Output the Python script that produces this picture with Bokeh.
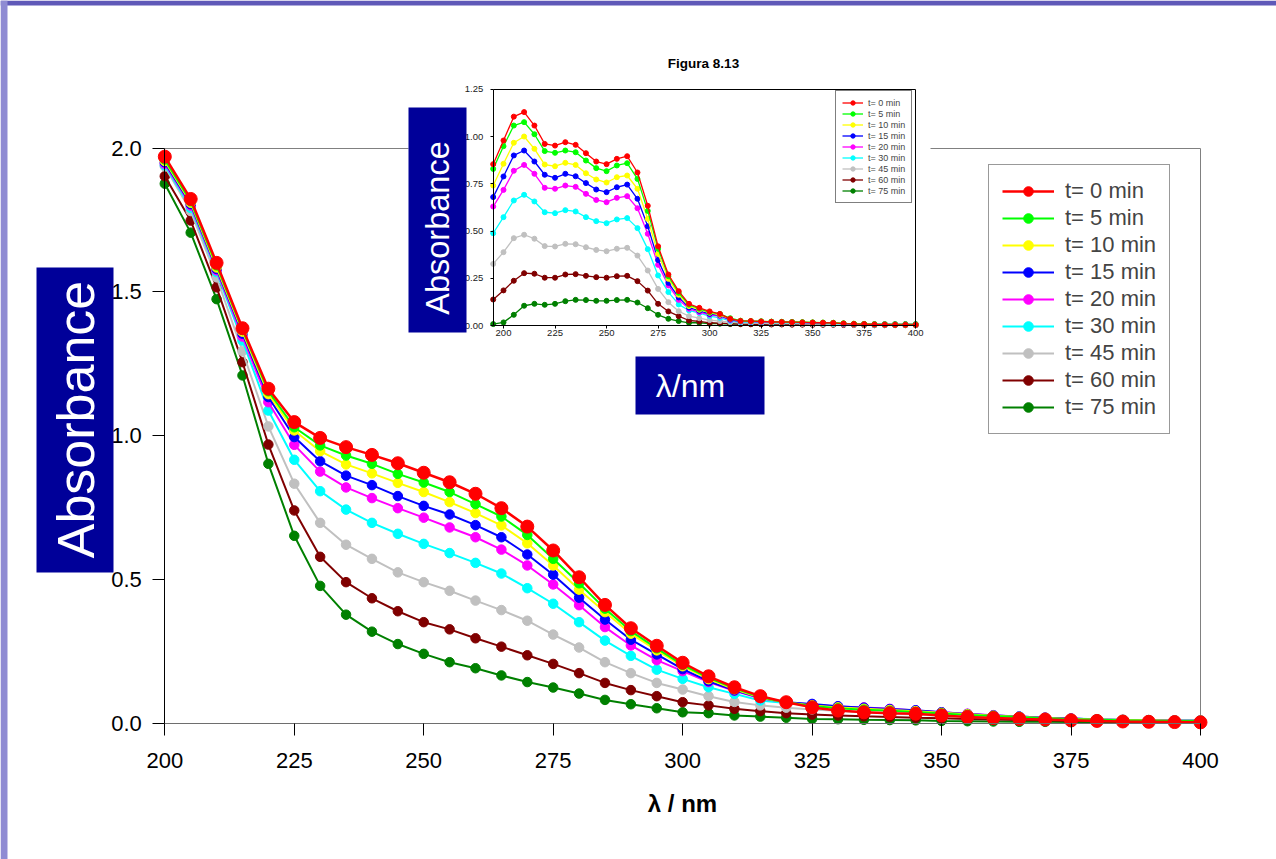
from bokeh.plotting import figure
from bokeh.models import (Range1d, LinearAxis, FixedTicker, PrintfTickFormatter,
                          Legend, LegendItem, BoxAnnotation, Label, ColumnDataSource)
from bokeh.embed import file_html
from bokeh.resources import INLINE

# ---------------- data ----------------
series_labels = ["t= 0 min", "t= 5 min", "t= 10 min", "t= 15 min", "t= 20 min",
                 "t= 30 min", "t= 45 min", "t= 60 min", "t= 75 min"]
series_colors = ["#ff0000", "#00ff00", "#ffff00", "#0000ff", "#ff00ff",
                 "#00ffff", "#c0c0c0", "#800000", "#008000"]

wl_main = list(range(200, 405, 5))
main_t0 = [1.970, 1.823, 1.601, 1.374, 1.164, 1.048, 0.993, 0.961, 0.934, 0.905,
           0.872, 0.839, 0.799, 0.749, 0.685, 0.602, 0.509, 0.413, 0.332, 0.271,
           0.212, 0.165, 0.127, 0.096, 0.075, 0.057, 0.046, 0.040, 0.037, 0.035,
           0.029, 0.024, 0.020, 0.017, 0.015, 0.012, 0.010, 0.008, 0.007, 0.006,
           0.005]
main_t5 = [1.960, 1.815, 1.592, 1.368, 1.155, 1.030, 0.967, 0.932, 0.903, 0.868,
           0.838, 0.805, 0.763, 0.720, 0.656, 0.573, 0.488, 0.400, 0.322, 0.262,
           0.205, 0.160, 0.123, 0.093, 0.074, 0.062, 0.054, 0.049, 0.045, 0.041,
           0.036, 0.031, 0.027, 0.023, 0.019, 0.016, 0.014, 0.012, 0.011, 0.010,
           0.010]
main_t10 = [1.955, 1.810, 1.585, 1.362, 1.145, 1.019, 0.947, 0.901, 0.870, 0.837,
            0.805, 0.770, 0.732, 0.689, 0.627, 0.550, 0.466, 0.388, 0.313, 0.255,
            0.200, 0.155, 0.120, 0.091, 0.074, 0.064, 0.057, 0.052, 0.048, 0.044,
            0.038, 0.033, 0.028, 0.024, 0.020, 0.017, 0.015, 0.013, 0.012, 0.011,
            0.011]
main_t15 = [1.950, 1.805, 1.580, 1.355, 1.135, 0.996, 0.912, 0.862, 0.829, 0.791,
            0.757, 0.727, 0.690, 0.648, 0.588, 0.518, 0.438, 0.362, 0.292, 0.241,
            0.190, 0.148, 0.116, 0.090, 0.075, 0.069, 0.061, 0.056, 0.051, 0.047,
            0.040, 0.034, 0.029, 0.025, 0.021, 0.018, 0.015, 0.013, 0.012, 0.011,
            0.011]
main_t20 = [1.945, 1.800, 1.575, 1.345, 1.117, 0.969, 0.876, 0.821, 0.784, 0.749,
            0.716, 0.682, 0.648, 0.605, 0.550, 0.484, 0.412, 0.336, 0.272, 0.221,
            0.183, 0.145, 0.115, 0.089, 0.075, 0.066, 0.060, 0.057, 0.052, 0.046,
            0.040, 0.035, 0.030, 0.025, 0.021, 0.018, 0.015, 0.013, 0.012, 0.011,
            0.011]
main_t30 = [1.940, 1.792, 1.569, 1.331, 1.088, 0.917, 0.808, 0.744, 0.698, 0.660,
            0.625, 0.593, 0.559, 0.522, 0.471, 0.417, 0.353, 0.289, 0.236, 0.188,
            0.156, 0.127, 0.104, 0.081, 0.072, 0.063, 0.055, 0.052, 0.048, 0.044,
            0.038, 0.033, 0.029, 0.025, 0.021, 0.018, 0.016, 0.014, 0.013, 0.012,
            0.012]
main_t45 = [1.936, 1.781, 1.551, 1.294, 1.033, 0.834, 0.698, 0.622, 0.573, 0.526,
            0.492, 0.462, 0.428, 0.395, 0.358, 0.310, 0.265, 0.214, 0.176, 0.142,
            0.119, 0.096, 0.076, 0.064, 0.056, 0.050, 0.045, 0.040, 0.036, 0.032,
            0.028, 0.025, 0.022, 0.019, 0.016, 0.014, 0.012, 0.011, 0.010, 0.009,
            0.009]
main_t60 = [1.902, 1.748, 1.516, 1.256, 0.970, 0.741, 0.580, 0.492, 0.436, 0.391,
            0.353, 0.328, 0.297, 0.268, 0.238, 0.208, 0.176, 0.142, 0.117, 0.096,
            0.075, 0.064, 0.052, 0.044, 0.037, 0.032, 0.029, 0.026, 0.024, 0.021,
            0.019, 0.017, 0.015, 0.013, 0.012, 0.010, 0.009, 0.008, 0.007, 0.007,
            0.006]
main_t75 = [1.876, 1.706, 1.475, 1.210, 0.903, 0.653, 0.479, 0.379, 0.320, 0.277,
            0.243, 0.214, 0.193, 0.168, 0.145, 0.126, 0.105, 0.083, 0.068, 0.054,
            0.040, 0.037, 0.029, 0.025, 0.021, 0.017, 0.016, 0.014, 0.013, 0.012,
            0.010, 0.009, 0.008, 0.007, 0.007, 0.006, 0.006, 0.005, 0.005, 0.005,
            0.005]

wl_inset = list(range(195, 405, 5))
ins_t0 = [0.854, 0.979, 1.105, 1.129, 1.058, 0.961, 0.952, 0.970, 0.956, 0.912,
          0.868, 0.854, 0.882, 0.896, 0.810, 0.634, 0.420, 0.271, 0.183, 0.116,
          0.095, 0.076, 0.063, 0.037, 0.026, 0.025, 0.023, 0.021, 0.020, 0.019,
          0.018, 0.017, 0.016, 0.015, 0.012, 0.010, 0.009, 0.007, 0.006, 0.005,
          0.005, 0.005]
ins_t5 = [0.829, 0.949, 1.058, 1.076, 1.012, 0.923, 0.914, 0.926, 0.917, 0.873,
          0.833, 0.817, 0.847, 0.859, 0.776, 0.607, 0.407, 0.262, 0.174, 0.111,
          0.090, 0.072, 0.063, 0.040, 0.027, 0.025, 0.024, 0.022, 0.021, 0.020,
          0.019, 0.018, 0.017, 0.016, 0.013, 0.011, 0.010, 0.008, 0.007, 0.006,
          0.006, 0.006]
ins_t10 = [0.741, 0.856, 0.967, 1.000, 0.935, 0.852, 0.843, 0.861, 0.850, 0.806,
           0.773, 0.757, 0.785, 0.794, 0.724, 0.565, 0.380, 0.248, 0.164, 0.104,
           0.085, 0.069, 0.058, 0.037, 0.026, 0.024, 0.023, 0.022, 0.021, 0.020,
           0.019, 0.018, 0.017, 0.016, 0.013, 0.011, 0.010, 0.008, 0.007, 0.006,
           0.006, 0.006]
ins_t15 = [0.680, 0.789, 0.900, 0.926, 0.868, 0.798, 0.782, 0.803, 0.790, 0.754,
           0.720, 0.706, 0.732, 0.746, 0.671, 0.526, 0.347, 0.227, 0.150, 0.097,
           0.079, 0.063, 0.055, 0.033, 0.024, 0.023, 0.022, 0.021, 0.020, 0.019,
           0.018, 0.017, 0.016, 0.015, 0.012, 0.010, 0.009, 0.008, 0.007, 0.006,
           0.006, 0.006]
ins_t20 = [0.630, 0.718, 0.819, 0.850, 0.803, 0.729, 0.724, 0.741, 0.734, 0.697,
           0.665, 0.653, 0.676, 0.685, 0.621, 0.486, 0.322, 0.213, 0.137, 0.090,
           0.072, 0.058, 0.051, 0.030, 0.023, 0.022, 0.021, 0.020, 0.019, 0.018,
           0.017, 0.016, 0.015, 0.014, 0.011, 0.010, 0.009, 0.008, 0.007, 0.006,
           0.006, 0.006]
ins_t30 = [0.489, 0.574, 0.662, 0.692, 0.657, 0.600, 0.595, 0.611, 0.604, 0.574,
           0.553, 0.542, 0.562, 0.569, 0.516, 0.405, 0.266, 0.178, 0.113, 0.081,
           0.067, 0.051, 0.042, 0.026, 0.020, 0.019, 0.018, 0.017, 0.016, 0.015,
           0.014, 0.013, 0.012, 0.011, 0.009, 0.008, 0.007, 0.006, 0.006, 0.005,
           0.005, 0.005]
ins_t45 = [0.327, 0.389, 0.463, 0.481, 0.460, 0.421, 0.419, 0.433, 0.431, 0.415,
           0.401, 0.394, 0.407, 0.412, 0.371, 0.292, 0.195, 0.125, 0.077, 0.051,
           0.040, 0.030, 0.025, 0.019, 0.015, 0.014, 0.013, 0.012, 0.012, 0.011,
           0.010, 0.009, 0.009, 0.008, 0.007, 0.006, 0.005, 0.005, 0.004, 0.004,
           0.004, 0.004]
ins_t60 = [0.139, 0.187, 0.238, 0.278, 0.275, 0.254, 0.254, 0.271, 0.273, 0.264,
           0.257, 0.254, 0.262, 0.264, 0.236, 0.186, 0.116, 0.076, 0.051, 0.028,
           0.023, 0.016, 0.014, 0.011, 0.009, 0.008, 0.008, 0.007, 0.007, 0.006,
           0.006, 0.005, 0.005, 0.005, 0.004, 0.004, 0.003, 0.003, 0.003, 0.003,
           0.003, 0.003]
ins_t75 = [0.009, 0.018, 0.058, 0.106, 0.116, 0.111, 0.116, 0.130, 0.137, 0.136,
           0.132, 0.132, 0.136, 0.137, 0.123, 0.093, 0.058, 0.037, 0.025, 0.016,
           0.016, 0.011, 0.011, 0.009, 0.009, 0.009, 0.009, 0.009, 0.009, 0.009,
           0.009, 0.009, 0.009, 0.009, 0.009, 0.009, 0.009, 0.009, 0.009, 0.009,
           0.009, 0.009]

main_series = [main_t0, main_t5, main_t10, main_t15, main_t20, main_t30, main_t45, main_t60, main_t75]
inset_series = [ins_t0, ins_t5, ins_t10, ins_t15, ins_t20, ins_t30, ins_t45, ins_t60, ins_t75]

main_xticks = [200, 225, 250, 275, 300, 325, 350, 375, 400]
main_yticks = [0.0, 0.5, 1.0, 1.5, 2.0]
inset_xticks = [200, 225, 250, 275, 300, 325, 350, 375, 400]
inset_yticks = [0.0, 0.25, 0.5, 0.75, 1.0, 1.25]

# ---------------- layout (screenshot pixels) ----------------
W, H = 1276, 859
PL, PT = 0, 0
PR, PB = PL + W, PT + H
FONT = "Liberation Sans"
NAVY = "#000099"


def make_range(v0, p0, v1, p1, lo, hi):
    k = (p1 - p0) / (v1 - v0)
    return Range1d(start=v0 + (lo - p0) / k, end=v0 + (hi - p0) / k)


main_x = make_range(200, 164.3, 400, 1200.0, PL, PR)
main_y = make_range(0, 723.3, 2, 147.5, PB, PT)
ins_x = make_range(195, 492.7, 400, 915.2, PL, PR)
ins_y = make_range(0, 325.3, 1.25, 88.7, PB, PT)

p = figure(width=W, height=H, x_range=main_x, y_range=main_y,
           output_backend="svg", toolbar_location=None,
           x_axis_location=None, y_axis_location=None, title=None,
           min_border=0, min_border_left=0, min_border_right=0,
           min_border_top=0, min_border_bottom=0)
p.outline_line_color = None
p.background_fill_color = "white"
p.border_fill_color = "white"
p.grid.visible = False
p.extra_x_ranges = {"ix": ins_x, "px": Range1d(start=PL, end=PR)}
p.extra_y_ranges = {"iy": ins_y, "py": Range1d(start=PB, end=PT)}

# slide border bands (top and left)
p.add_layout(BoxAnnotation(left=0, right=W, top=0, bottom=5, x_range_name="px", y_range_name="py",
                           fill_color="#5f59b8", fill_alpha=1, line_color=None, level="underlay"))
p.add_layout(BoxAnnotation(left=0, right=7, top=0, bottom=H, x_range_name="px", y_range_name="py",
                           fill_color="#8f8bd3", fill_alpha=1, line_color=None, level="underlay"))


def style_axis(ax, size, tick_out, standoff, line_color="black", label_color="black"):
    ax.major_tick_in = 0
    ax.major_tick_out = tick_out
    ax.minor_tick_line_color = None
    ax.major_label_text_font = FONT
    ax.major_label_text_font_size = size
    ax.major_label_text_color = label_color
    ax.major_label_standoff = standoff
    ax.axis_line_color = line_color
    ax.major_tick_line_color = "black"


# ---------------- main axes ----------------
xa = LinearAxis(fixed_location=0, bounds=(200, 400), ticker=FixedTicker(ticks=main_xticks),
                formatter=PrintfTickFormatter(format="%d"),
                axis_label="λ / nm", axis_label_text_font=FONT, axis_label_text_color="black",
                axis_label_text_font_size="24px", axis_label_text_font_style="bold",
                axis_label_standoff=19)
style_axis(xa, "22px", 12, 17, line_color="#6e6e6e")
p.add_layout(xa, "below")

ya = LinearAxis(fixed_location=200, bounds=(0, 2), ticker=FixedTicker(ticks=main_yticks),
                formatter=PrintfTickFormatter(format="%.1f"))
style_axis(ya, "22px", 12, 11)
p.add_layout(ya, "left")

top_main = LinearAxis(fixed_location=2, bounds=(200, 400), ticker=FixedTicker(ticks=[]),
                      axis_line_color="#808080", level="image")
p.add_layout(top_main, "above")
right_main = LinearAxis(fixed_location=400, bounds=(0, 2), ticker=FixedTicker(ticks=[]),
                        axis_line_color="#808080", level="image")
p.add_layout(right_main, "right")

# white backdrop of the inset picture
p.add_layout(BoxAnnotation(left=408, right=930, top=40, bottom=420,
                           x_range_name="px", y_range_name="py",
                           fill_color="white", fill_alpha=1, line_color=None,
                           level="underlay"))

# ---------------- main series ----------------
main_items = []
for i in reversed(range(len(main_series))):
    src = ColumnDataSource(dict(x=wl_main, y=main_series[i]))
    lr = p.line("x", "y", source=src, line_color=series_colors[i],
                line_width=2.5 if i == 0 else 2)
    sr = p.scatter("x", "y", source=src, size=13 if i == 0 else 9.5,
                   fill_color=series_colors[i], line_color=series_colors[i])
    main_items.insert(0, LegendItem(label=series_labels[i], renderers=[lr, sr]))

# ---------------- inset axes ----------------
ixa = LinearAxis(x_range_name="ix", y_range_name="iy", fixed_location=0, bounds=(195, 400),
                 ticker=FixedTicker(ticks=inset_xticks), formatter=PrintfTickFormatter(format="%d"))
style_axis(ixa, "9.5px", 3, 1, label_color="#222222")
p.add_layout(ixa, "below")
iya = LinearAxis(x_range_name="ix", y_range_name="iy", fixed_location=195, bounds=(0, 1.25),
                 ticker=FixedTicker(ticks=inset_yticks), formatter=PrintfTickFormatter(format="%.2f"))
style_axis(iya, "9.5px", 3, 7, label_color="#222222")
p.add_layout(iya, "left")
itop = LinearAxis(x_range_name="ix", y_range_name="iy", fixed_location=1.25, bounds=(195, 400),
                  ticker=FixedTicker(ticks=[]), axis_line_color="black")
p.add_layout(itop, "above")
iright = LinearAxis(x_range_name="ix", y_range_name="iy", fixed_location=400, bounds=(0, 1.25),
                    ticker=FixedTicker(ticks=[]), axis_line_color="black")
p.add_layout(iright, "right")

# ---------------- inset series ----------------
inset_items = []
for i in reversed(range(len(inset_series))):
    src = ColumnDataSource(dict(x=wl_inset, y=inset_series[i]))
    lr = p.line("x", "y", source=src, line_color=series_colors[i], line_width=1.3,
                x_range_name="ix", y_range_name="iy")
    sr = p.scatter("x", "y", source=src, size=5, fill_color=series_colors[i],
                   line_color=series_colors[i], x_range_name="ix", y_range_name="iy")
    inset_items.insert(0, LegendItem(label=series_labels[i], renderers=[lr, sr]))

# ---------------- legends ----------------
main_legend = Legend(items=main_items, location=(988, H - 434),
                     label_text_font=FONT, label_text_font_size="22px",
                     glyph_width=52, glyph_height=24, label_height=24,
                     spacing=1, padding=13, margin=0, label_standoff=11,
                     border_line_color="#333333", border_line_width=1,
                     background_fill_color="white", background_fill_alpha=1)
p.add_layout(main_legend)

inset_legend = Legend(items=inset_items, location=(835, H - 203),
                      label_text_font=FONT, label_text_font_size="9px",
                      glyph_width=21, glyph_height=11, label_height=11,
                      spacing=0, padding=6, margin=0, label_standoff=5,
                      border_line_color="black", border_line_width=1,
                      background_fill_color="white", background_fill_alpha=1)
p.add_layout(inset_legend)

# ---------------- decorations: title and blue label boxes ----------------
p.add_layout(Label(x=703, y=62.5, x_range_name="px", y_range_name="py", text="Figura 8.13",
                   text_font=FONT, text_font_size="13.5px", text_font_style="bold",
                   text_align="center", text_baseline="middle", text_color="black"))

boxes = [(36, 113, 267, 572), (408, 466, 107, 332), (635, 764, 356, 414)]
for (l, r, t, b) in boxes:
    p.add_layout(BoxAnnotation(left=l, right=r, top=t, bottom=b,
                               x_range_name="px", y_range_name="py",
                               fill_color=NAVY, fill_alpha=1, line_color=None,
                               level="annotation"))

p.add_layout(Label(x=75.8, y=419, x_range_name="px", y_range_name="py", text="Absorbance",
                   angle=90, angle_units="deg", text_font=FONT, text_font_size="52px",
                   text_color="white", text_align="center", text_baseline="middle"))
p.add_layout(Label(x=437.5, y=227.5, x_range_name="px", y_range_name="py", text="Absorbance",
                   angle=90, angle_units="deg", text_font=FONT, text_font_size="32.5px",
                   text_color="white", text_align="center", text_baseline="middle"))
p.add_layout(Label(x=690, y=385.5, x_range_name="px", y_range_name="py", text="λ/nm",
                   text_font=FONT, text_font_size="32px",
                   text_color="white", text_align="center", text_baseline="middle"))

open("out.html", "w").write(file_html(p, INLINE))
